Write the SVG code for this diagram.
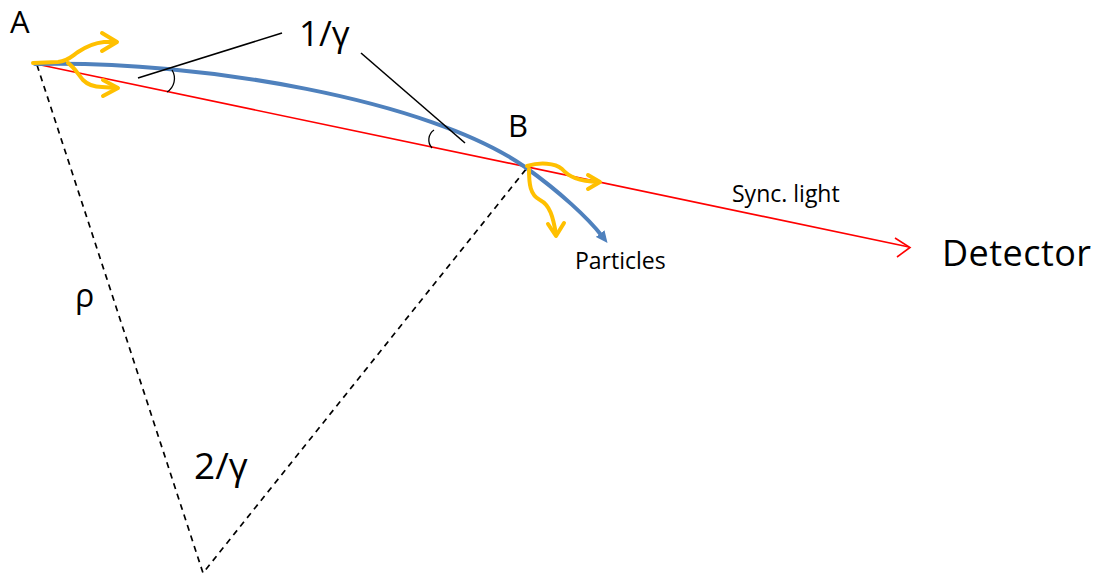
<svg xmlns="http://www.w3.org/2000/svg" width="1098" height="581" viewBox="0 0 1098 581">
<defs>
<style>
text{font-family:"Open Sans","Liberation Sans",sans-serif;fill:#000}
.dash{fill:none;stroke:#000;stroke-width:1.7;stroke-dasharray:6 5}
.lead{fill:none;stroke:#000;stroke-width:1.6}
.ang{fill:none;stroke:#000;stroke-width:1.3}
.red{fill:none;stroke:#FF0000;stroke-width:1.6}
.blue{fill:none;stroke:#4F81BD;stroke-width:4;stroke-linecap:round}
.yel{fill:none;stroke:#FFC000;stroke-width:4;stroke-linecap:round;stroke-linejoin:round}
</style>
<marker id="bluehead" markerWidth="12" markerHeight="11" refX="3" refY="5.5" orient="auto" markerUnits="userSpaceOnUse" viewBox="0 0 12 11">
<path d="M0,0 L12,5.5 L0,11 Z" fill="#4F81BD"/>
</marker>
</defs>
<rect width="1098" height="581" fill="#fff"/>
<g id="connectors">
<path class="dash" d="M37,65 L203,573 L527,168"/>
<path class="red" d="M36,64 L909,247"/>
<path class="red" d="M895,238 L910,247.5 L897,257" stroke-width="2"/>
<path class="blue" d="M35,64 C200,60 430,100 525,167 C560,192 588,218 602,236" marker-end="url(#bluehead)"/>
<path class="lead" d="M138,78 L282,33"/>
<path class="lead" d="M361,53 L465,143"/>
<path class="ang" d="M172,70 A16,16 0 0 1 167,92"/>
<path class="ang" d="M434,130 A12,12 0 0 0 432,148"/>
<path class="yel" d="M33,63 L58,62 C68,61 72,56 78,52 C87,46 94,43 104,42 L116,42"/>
<path class="yel" d="M102,33 L117,42 L102,51"/>
<path class="yel" d="M68,63 C74,67 78,74 83,80 C88,85 94,87 102,87 L117,88"/>
<path class="yel" d="M103,80 L118,88 L103,96"/>
<path class="yel" d="M527,166 C540,162 555,163 562,169 C569,177 578,181 599,182"/>
<path class="yel" d="M588,175 L600,182 L588,189"/>
<path class="yel" d="M529,169 C529,184 530,195 540,200 C550,205 553,217 556,234"/>
<path class="yel" d="M548,224 L556,236 L564,223"/>
</g>
<g id="label-A"><text x="10" y="33" font-size="31">A</text></g>
<g id="label-B"><text x="508" y="137" font-size="31">B</text></g>
<g id="label-1g"><text x="299" y="46" font-size="35">1/γ</text></g>
<g id="label-2g"><text x="194" y="479" font-size="37">2/γ</text></g>
<g id="label-rho"><text x="75" y="307" font-size="32">ρ</text></g>
<g id="label-particles"><text x="575" y="269" font-size="23">Particles</text></g>
<g id="label-sync"><text x="732" y="202" font-size="23">Sync. light</text></g>
<g id="detector"><text x="942" y="266" font-size="36" textLength="149" lengthAdjust="spacing">Detector</text></g>
</svg>
